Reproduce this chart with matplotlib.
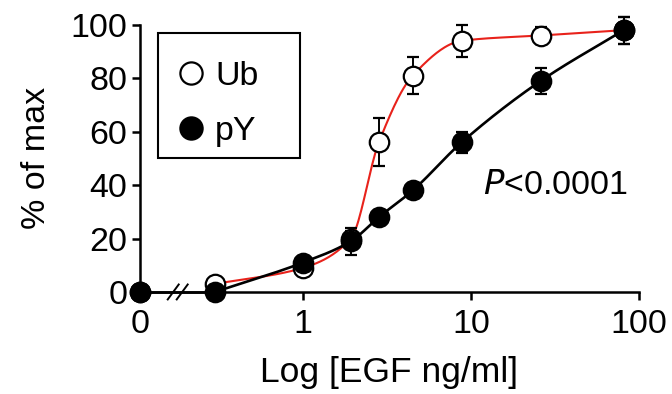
import matplotlib
matplotlib.use("Agg")
import matplotlib.pyplot as plt
from matplotlib.lines import Line2D
from matplotlib.patches import Rectangle
import numpy as np

plt.rcParams["font.family"] = ["Liberation Sans", "DejaVu Sans"]

# data (EGF ng/ml, 0 = untreated)
egf = [0, 0.3, 1, 1.93, 2.83, 4.5, 8.8, 26, 81]
ub = [0, 3, 9, 20, 56, 81, 94, 96, 98]
ub_err = [0, 1, 2, 3, 9, 7, 6, 3, 5]
py = [0, 0, 11, 19, 28, 38, 56, 79, 98]
py_err = [0, 1, 2, 5, 2, 2, 4, 5, 5]

ZERO_POS = 0.107  # where "0" sits on the log axis
FS = 24.5


def pchip(x, y, xs):
    # monotone cubic (Fritsch-Carlson)
    x = np.asarray(x, float)
    y = np.asarray(y, float)
    h = np.diff(x)
    d = np.diff(y) / h
    m = np.zeros_like(y)
    m[0], m[-1] = d[0], d[-1]
    for i in range(1, len(x) - 1):
        if d[i - 1] * d[i] <= 0:
            m[i] = 0
        else:
            w1 = 2 * h[i] + h[i - 1]
            w2 = h[i] + 2 * h[i - 1]
            m[i] = (w1 + w2) / (w1 / d[i - 1] + w2 / d[i])
    out = np.empty_like(xs)
    for j, xv in enumerate(xs):
        i = min(max(np.searchsorted(x, xv) - 1, 0), len(x) - 2)
        t = (xv - x[i]) / h[i]
        h00 = 2 * t**3 - 3 * t**2 + 1
        h10 = t**3 - 2 * t**2 + t
        h01 = -2 * t**3 + 3 * t**2
        h11 = t**3 - t**2
        out[j] = h00 * y[i] + h10 * h[i] * m[i] + h01 * y[i + 1] + h11 * h[i] * m[i + 1]
    return out


xpos = np.array([ZERO_POS if v == 0 else v for v in egf])
lx = np.log10(xpos)

fig = plt.figure(figsize=(6.72, 3.94), dpi=100)
ax = fig.add_axes([0.208, 0.259, 0.743, 0.678])
ax.set_xscale("log")

# curves
xs = np.linspace(lx[1], lx[-1], 300)
ax.plot(10**xs, pchip(lx[1:], ub[1:], xs), color="#e8221b", lw=1.5, zorder=2)
ax.plot(10**xs, pchip(lx[1:], py[1:], xs), color="black", lw=1.9, zorder=3)
ax.plot(xpos[:2], py[:2], color="black", lw=1.9, zorder=3, clip_on=False)

ax.errorbar(xpos, ub, yerr=ub_err, fmt="o", ms=14, mfc="white", mec="black", mew=1.6,
            ecolor="black", elinewidth=1.4, capsize=4, capthick=1.4, zorder=4, clip_on=False)
ax.errorbar(xpos, py, yerr=py_err, fmt="o", ms=14, mfc="black", mec="black", mew=1.6,
            ecolor="black", elinewidth=1.4, capsize=4, capthick=1.4, zorder=5, clip_on=False)

ax.set_xlim(ZERO_POS, 100)
ax.set_ylim(0, 100)
ax.set_xticks([ZERO_POS, 1, 10, 100])
ax.set_xticklabels(["0", "1", "10", "100"])
ax.minorticks_off()
ax.set_yticks([0, 20, 40, 60, 80, 100])
for s in ["top", "right"]:
    ax.spines[s].set_visible(False)
for s in ["left", "bottom"]:
    ax.spines[s].set_linewidth(1.8)
ax.tick_params(axis="both", length=6, width=1.8, labelsize=FS, pad=3)
ax.tick_params(axis="x", pad=6)
ax.xaxis.get_major_ticks()[0].tick1line.set_visible(False)

# axis break marks
bx, dx, dy = 0.076, 0.011, 0.028
for off in (-0.009, 0.009):
    ax.plot([bx + off - dx, bx + off + dx], [-dy, dy], color="black", lw=1.4,
            transform=ax.transAxes, clip_on=False, zorder=6)

ax.set_xlabel("Log [EGF ng/ml]", fontsize=25.5, labelpad=12)
ax.set_ylabel("% of max", fontsize=FS, labelpad=13)

ax.text(11.8, 40, "$\\it{P}$<0.0001", fontsize=FS, ha="left", va="center")

# legend box drawn separately so it can be wider than its contents
ax.add_patch(Rectangle((0.036, 0.502), 0.285, 0.468, transform=ax.transAxes,
                       fill=False, ec="black", lw=1.5, zorder=6))
handles = [Line2D([], [], ls="", marker="o", ms=16, mfc="white", mec="black", mew=1.6),
           Line2D([], [], ls="", marker="o", ms=16, mfc="black", mec="black", mew=1.6)]
ax.legend(handles, ["Ub", "pY"], loc="upper left", bbox_to_anchor=(0.075, 0.865),
          fontsize=FS, frameon=False, handletextpad=0.32, handlelength=0.8,
          borderpad=0, labelspacing=0.72, borderaxespad=0)

fig.savefig("out.png", dpi=100)
